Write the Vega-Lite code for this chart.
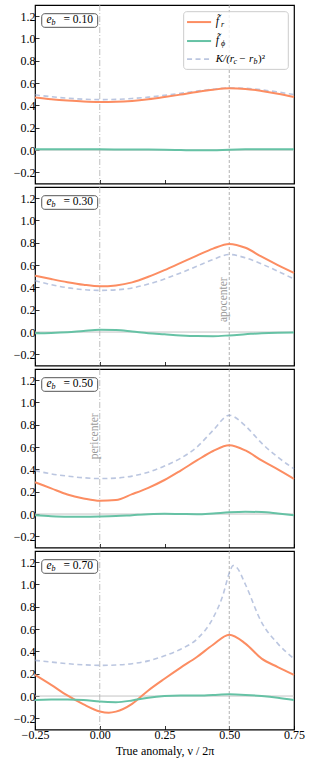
{
  "$schema": "https://vega.github.io/schema/vega-lite/v6.json",
  "padding": {"left": 4, "top": 4, "right": 16, "bottom": 2},
  "spacing": 3,
  "bounds": "flush",
  "config": {
    "font": "Liberation Serif",
    "view": {"stroke": "#000000", "strokeWidth": 1.2},
    "axis": {"domain": false, "grid": false, "ticks": true, "tickColor": "#000000", "tickSize": -4, "tickWidth": 0.8, "tickCount": 20, "labelFont": "Liberation Serif", "labelFontSize": 12, "labelColor": "#000000", "labelPadding": 4, "labelOverlap": false, "labelFlush": false, "titleFont": "Liberation Serif", "titleFontSize": 12, "titleFontWeight": "normal", "titleColor": "#000000"},
    "text": {"font": "Liberation Serif"}
  },
  "datasets": {
    "one": [{"k": 1}],
    "curves": [
      {"eb":0.1,"s":"fr","x":-0.25,"y":0.47},{"eb":0.1,"s":"fr","x":-0.1875,"y":0.455},{"eb":0.1,"s":"fr","x":-0.125,"y":0.443},{"eb":0.1,"s":"fr","x":-0.0625,"y":0.434},{"eb":0.1,"s":"fr","x":0,"y":0.43},{"eb":0.1,"s":"fr","x":0.0625,"y":0.432},{"eb":0.1,"s":"fr","x":0.125,"y":0.44},{"eb":0.1,"s":"fr","x":0.1875,"y":0.455},{"eb":0.1,"s":"fr","x":0.25,"y":0.475},{"eb":0.1,"s":"fr","x":0.3125,"y":0.497},{"eb":0.1,"s":"fr","x":0.375,"y":0.52},{"eb":0.1,"s":"fr","x":0.4375,"y":0.54},{"eb":0.1,"s":"fr","x":0.5,"y":0.553},{"eb":0.1,"s":"fr","x":0.5625,"y":0.548},{"eb":0.1,"s":"fr","x":0.625,"y":0.53},{"eb":0.1,"s":"fr","x":0.6875,"y":0.505},{"eb":0.1,"s":"fr","x":0.75,"y":0.475},
      {"eb":0.1,"s":"K","x":-0.25,"y":0.495},{"eb":0.1,"s":"K","x":-0.1875,"y":0.478},{"eb":0.1,"s":"K","x":-0.125,"y":0.465},{"eb":0.1,"s":"K","x":-0.0625,"y":0.456},{"eb":0.1,"s":"K","x":0,"y":0.452},{"eb":0.1,"s":"K","x":0.0625,"y":0.454},{"eb":0.1,"s":"K","x":0.125,"y":0.462},{"eb":0.1,"s":"K","x":0.1875,"y":0.474},{"eb":0.1,"s":"K","x":0.25,"y":0.49},{"eb":0.1,"s":"K","x":0.3125,"y":0.508},{"eb":0.1,"s":"K","x":0.375,"y":0.528},{"eb":0.1,"s":"K","x":0.4375,"y":0.545},{"eb":0.1,"s":"K","x":0.5,"y":0.556},{"eb":0.1,"s":"K","x":0.5625,"y":0.553},{"eb":0.1,"s":"K","x":0.625,"y":0.54},{"eb":0.1,"s":"K","x":0.6875,"y":0.52},{"eb":0.1,"s":"K","x":0.75,"y":0.497},
      {"eb":0.1,"s":"fp","x":-0.25,"y":0.006},{"eb":0.1,"s":"fp","x":-0.125,"y":0.006},{"eb":0.1,"s":"fp","x":0,"y":0.006},{"eb":0.1,"s":"fp","x":0.125,"y":0.005},{"eb":0.1,"s":"fp","x":0.1875,"y":0.004},{"eb":0.1,"s":"fp","x":0.25,"y":0.003},{"eb":0.1,"s":"fp","x":0.3125,"y":0.0},{"eb":0.1,"s":"fp","x":0.375,"y":-0.003},{"eb":0.1,"s":"fp","x":0.4375,"y":-0.002},{"eb":0.1,"s":"fp","x":0.5,"y":0.003},{"eb":0.1,"s":"fp","x":0.5625,"y":0.006},{"eb":0.1,"s":"fp","x":0.625,"y":0.007},{"eb":0.1,"s":"fp","x":0.75,"y":0.007},

      {"eb":0.3,"s":"fr","x":-0.25,"y":0.505},{"eb":0.3,"s":"fr","x":-0.1875,"y":0.475},{"eb":0.3,"s":"fr","x":-0.125,"y":0.447},{"eb":0.3,"s":"fr","x":-0.0625,"y":0.424},{"eb":0.3,"s":"fr","x":0,"y":0.41},{"eb":0.3,"s":"fr","x":0.0625,"y":0.418},{"eb":0.3,"s":"fr","x":0.125,"y":0.445},{"eb":0.3,"s":"fr","x":0.1875,"y":0.495},{"eb":0.3,"s":"fr","x":0.25,"y":0.555},{"eb":0.3,"s":"fr","x":0.3125,"y":0.62},{"eb":0.3,"s":"fr","x":0.375,"y":0.685},{"eb":0.3,"s":"fr","x":0.4375,"y":0.748},{"eb":0.3,"s":"fr","x":0.5,"y":0.79},{"eb":0.3,"s":"fr","x":0.5625,"y":0.755},{"eb":0.3,"s":"fr","x":0.625,"y":0.675},{"eb":0.3,"s":"fr","x":0.6875,"y":0.6},{"eb":0.3,"s":"fr","x":0.75,"y":0.53},
      {"eb":0.3,"s":"K","x":-0.25,"y":0.46},{"eb":0.3,"s":"K","x":-0.1875,"y":0.425},{"eb":0.3,"s":"K","x":-0.125,"y":0.397},{"eb":0.3,"s":"K","x":-0.0625,"y":0.38},{"eb":0.3,"s":"K","x":0,"y":0.373},{"eb":0.3,"s":"K","x":0.0625,"y":0.378},{"eb":0.3,"s":"K","x":0.125,"y":0.395},{"eb":0.3,"s":"K","x":0.1875,"y":0.43},{"eb":0.3,"s":"K","x":0.25,"y":0.475},{"eb":0.3,"s":"K","x":0.3125,"y":0.53},{"eb":0.3,"s":"K","x":0.375,"y":0.59},{"eb":0.3,"s":"K","x":0.4375,"y":0.65},{"eb":0.3,"s":"K","x":0.5,"y":0.695},{"eb":0.3,"s":"K","x":0.5625,"y":0.665},{"eb":0.3,"s":"K","x":0.625,"y":0.61},{"eb":0.3,"s":"K","x":0.6875,"y":0.545},{"eb":0.3,"s":"K","x":0.75,"y":0.475},
      {"eb":0.3,"s":"fp","x":-0.25,"y":-0.01},{"eb":0.3,"s":"fp","x":-0.1875,"y":-0.008},{"eb":0.3,"s":"fp","x":-0.125,"y":-0.002},{"eb":0.3,"s":"fp","x":-0.0625,"y":0.01},{"eb":0.3,"s":"fp","x":0,"y":0.02},{"eb":0.3,"s":"fp","x":0.0625,"y":0.018},{"eb":0.3,"s":"fp","x":0.125,"y":0.005},{"eb":0.3,"s":"fp","x":0.1875,"y":-0.01},{"eb":0.3,"s":"fp","x":0.25,"y":-0.02},{"eb":0.3,"s":"fp","x":0.3125,"y":-0.03},{"eb":0.3,"s":"fp","x":0.375,"y":-0.036},{"eb":0.3,"s":"fp","x":0.4375,"y":-0.037},{"eb":0.3,"s":"fp","x":0.5,"y":-0.03},{"eb":0.3,"s":"fp","x":0.5625,"y":-0.02},{"eb":0.3,"s":"fp","x":0.625,"y":-0.01},{"eb":0.3,"s":"fp","x":0.6875,"y":-0.006},{"eb":0.3,"s":"fp","x":0.75,"y":-0.005},

      {"eb":0.5,"s":"fr","x":-0.25,"y":0.285},{"eb":0.5,"s":"fr","x":-0.1875,"y":0.23},{"eb":0.5,"s":"fr","x":-0.125,"y":0.175},{"eb":0.5,"s":"fr","x":-0.0625,"y":0.14},{"eb":0.5,"s":"fr","x":0,"y":0.118},{"eb":0.5,"s":"fr","x":0.0625,"y":0.125},{"eb":0.5,"s":"fr","x":0.125,"y":0.178},{"eb":0.5,"s":"fr","x":0.1875,"y":0.235},{"eb":0.5,"s":"fr","x":0.25,"y":0.305},{"eb":0.5,"s":"fr","x":0.3125,"y":0.39},{"eb":0.5,"s":"fr","x":0.375,"y":0.48},{"eb":0.5,"s":"fr","x":0.4375,"y":0.565},{"eb":0.5,"s":"fr","x":0.5,"y":0.617},{"eb":0.5,"s":"fr","x":0.5625,"y":0.57},{"eb":0.5,"s":"fr","x":0.625,"y":0.48},{"eb":0.5,"s":"fr","x":0.6875,"y":0.4},{"eb":0.5,"s":"fr","x":0.75,"y":0.315},
      {"eb":0.5,"s":"K","x":-0.25,"y":0.39},{"eb":0.5,"s":"K","x":-0.1875,"y":0.36},{"eb":0.5,"s":"K","x":-0.125,"y":0.34},{"eb":0.5,"s":"K","x":-0.0625,"y":0.325},{"eb":0.5,"s":"K","x":0,"y":0.318},{"eb":0.5,"s":"K","x":0.0625,"y":0.322},{"eb":0.5,"s":"K","x":0.125,"y":0.34},{"eb":0.5,"s":"K","x":0.1875,"y":0.375},{"eb":0.5,"s":"K","x":0.25,"y":0.43},{"eb":0.5,"s":"K","x":0.3125,"y":0.5},{"eb":0.5,"s":"K","x":0.375,"y":0.6},{"eb":0.5,"s":"K","x":0.4375,"y":0.75},{"eb":0.5,"s":"K","x":0.5,"y":0.885},{"eb":0.5,"s":"K","x":0.5625,"y":0.79},{"eb":0.5,"s":"K","x":0.625,"y":0.635},{"eb":0.5,"s":"K","x":0.6875,"y":0.51},{"eb":0.5,"s":"K","x":0.75,"y":0.405},
      {"eb":0.5,"s":"fp","x":-0.25,"y":-0.012},{"eb":0.5,"s":"fp","x":-0.1875,"y":-0.02},{"eb":0.5,"s":"fp","x":-0.125,"y":-0.024},{"eb":0.5,"s":"fp","x":-0.0625,"y":-0.024},{"eb":0.5,"s":"fp","x":0,"y":-0.022},{"eb":0.5,"s":"fp","x":0.0625,"y":-0.018},{"eb":0.5,"s":"fp","x":0.125,"y":-0.01},{"eb":0.5,"s":"fp","x":0.1875,"y":-0.002},{"eb":0.5,"s":"fp","x":0.25,"y":0.002},{"eb":0.5,"s":"fp","x":0.3125,"y":0.0},{"eb":0.5,"s":"fp","x":0.375,"y":-0.002},{"eb":0.5,"s":"fp","x":0.4375,"y":0.005},{"eb":0.5,"s":"fp","x":0.5,"y":0.015},{"eb":0.5,"s":"fp","x":0.5625,"y":0.02},{"eb":0.5,"s":"fp","x":0.625,"y":0.018},{"eb":0.5,"s":"fp","x":0.6875,"y":0.005},{"eb":0.5,"s":"fp","x":0.75,"y":-0.01},

      {"eb":0.7,"s":"fr","x":-0.25,"y":0.19},{"eb":0.7,"s":"fr","x":-0.1875,"y":0.1},{"eb":0.7,"s":"fr","x":-0.125,"y":0.005},{"eb":0.7,"s":"fr","x":-0.0625,"y":-0.075},{"eb":0.7,"s":"fr","x":0,"y":-0.138},{"eb":0.7,"s":"fr","x":0.035,"y":-0.15},{"eb":0.7,"s":"fr","x":0.0625,"y":-0.14},{"eb":0.7,"s":"fr","x":0.125,"y":-0.07},{"eb":0.7,"s":"fr","x":0.1875,"y":0.05},{"eb":0.7,"s":"fr","x":0.25,"y":0.155},{"eb":0.7,"s":"fr","x":0.3125,"y":0.255},{"eb":0.7,"s":"fr","x":0.375,"y":0.35},{"eb":0.7,"s":"fr","x":0.4375,"y":0.46},{"eb":0.7,"s":"fr","x":0.5,"y":0.55},{"eb":0.7,"s":"fr","x":0.5625,"y":0.47},{"eb":0.7,"s":"fr","x":0.625,"y":0.335},{"eb":0.7,"s":"fr","x":0.6875,"y":0.26},{"eb":0.7,"s":"fr","x":0.75,"y":0.19},
      {"eb":0.7,"s":"K","x":-0.25,"y":0.32},{"eb":0.7,"s":"K","x":-0.1875,"y":0.305},{"eb":0.7,"s":"K","x":-0.125,"y":0.29},{"eb":0.7,"s":"K","x":-0.0625,"y":0.28},{"eb":0.7,"s":"K","x":0,"y":0.275},{"eb":0.7,"s":"K","x":0.0625,"y":0.278},{"eb":0.7,"s":"K","x":0.125,"y":0.29},{"eb":0.7,"s":"K","x":0.1875,"y":0.315},{"eb":0.7,"s":"K","x":0.25,"y":0.36},{"eb":0.7,"s":"K","x":0.3125,"y":0.42},{"eb":0.7,"s":"K","x":0.375,"y":0.51},{"eb":0.7,"s":"K","x":0.4375,"y":0.7},{"eb":0.7,"s":"K","x":0.475,"y":0.9},{"eb":0.7,"s":"K","x":0.5,"y":1.1},{"eb":0.7,"s":"K","x":0.515,"y":1.17},{"eb":0.7,"s":"K","x":0.53,"y":1.15},{"eb":0.7,"s":"K","x":0.5625,"y":1.0},{"eb":0.7,"s":"K","x":0.625,"y":0.66},{"eb":0.7,"s":"K","x":0.6875,"y":0.47},{"eb":0.7,"s":"K","x":0.75,"y":0.335},
      {"eb":0.7,"s":"fp","x":-0.25,"y":-0.035},{"eb":0.7,"s":"fp","x":-0.1875,"y":-0.032},{"eb":0.7,"s":"fp","x":-0.125,"y":-0.03},{"eb":0.7,"s":"fp","x":-0.0625,"y":-0.035},{"eb":0.7,"s":"fp","x":0,"y":-0.05},{"eb":0.7,"s":"fp","x":0.0625,"y":-0.055},{"eb":0.7,"s":"fp","x":0.125,"y":-0.04},{"eb":0.7,"s":"fp","x":0.1875,"y":-0.015},{"eb":0.7,"s":"fp","x":0.25,"y":0.0},{"eb":0.7,"s":"fp","x":0.3125,"y":0.005},{"eb":0.7,"s":"fp","x":0.375,"y":0.005},{"eb":0.7,"s":"fp","x":0.4375,"y":0.01},{"eb":0.7,"s":"fp","x":0.5,"y":0.015},{"eb":0.7,"s":"fp","x":0.5625,"y":0.01},{"eb":0.7,"s":"fp","x":0.625,"y":0.0},{"eb":0.7,"s":"fp","x":0.6875,"y":-0.015},{"eb":0.7,"s":"fp","x":0.75,"y":-0.035}
    ]
  },
  "vconcat": [
    {
      "width": 259, "height": 178.5,
      "layer": [
        {"data": {"name": "one"}, "mark": {"type": "rule", "color": "#c4c4c4", "strokeWidth": 1}, "encoding": {"y": {"datum": 0}}},
        {"data": {"name": "one"}, "mark": {"type": "rule", "color": "#b0b0b0", "strokeWidth": 0.8, "strokeDash": [6, 2, 1, 2]}, "encoding": {"x": {"datum": 0}}},
        {"data": {"name": "one"}, "mark": {"type": "rule", "color": "#a0a0a0", "strokeWidth": 0.8, "strokeDash": [3, 2]}, "encoding": {"x": {"datum": 0.5}}},
        {"data": {"name": "curves"}, "transform": [{"filter": "datum.eb == 0.1 && datum.s == 'K'"}], "mark": {"type": "line", "color": "#8da0cb", "opacity": 0.6, "strokeWidth": 1.6, "strokeDash": [5, 3.5], "interpolate": "monotone"},
         "encoding": {"x": {"field": "x", "type": "quantitative", "scale": {"domain": [-0.25, 0.75], "nice": false, "zero": false}, "axis": {"values": [-0.25, 0, 0.25, 0.5, 0.75], "tickCount": 20, "labels": false, "title": null, "labelOverlap": false, "minExtent": 0, "maxExtent": 0}},
                      "y": {"field": "y", "type": "quantitative", "scale": {"domain": [-0.3, 1.3], "nice": false, "zero": false}, "axis": {"values": [-0.2, 0, 0.2, 0.4, 0.6, 0.8, 1.0, 1.2], "tickCount": 20, "format": ".1f", "title": null, "labelOverlap": false, "minExtent": 30, "maxExtent": 30}}}},
        {"data": {"name": "curves"}, "transform": [{"filter": "datum.eb == 0.1 && datum.s == 'fr'"}], "mark": {"type": "line", "color": "#fc8d62", "strokeWidth": 2, "interpolate": "monotone"}, "encoding": {"x": {"field": "x", "type": "quantitative"}, "y": {"field": "y", "type": "quantitative"}}},
        {"data": {"name": "curves"}, "transform": [{"filter": "datum.eb == 0.1 && datum.s == 'fp'"}], "mark": {"type": "line", "color": "#66c2a5", "strokeWidth": 2, "interpolate": "monotone"}, "encoding": {"x": {"field": "x", "type": "quantitative"}, "y": {"field": "y", "type": "quantitative"}}},
        {"data": {"name": "one"}, "mark": {"type": "rect", "fill": "#ffffff", "stroke": "#555555", "strokeWidth": 1, "cornerRadius": 3}, "encoding": {"x": {"datum": -0.224}, "x2": {"datum": -0.008}, "y": {"datum": 1.222}, "y2": {"datum": 1.1}}},
        {"data": {"name": "one"}, "mark": {"type": "text", "fontStyle": "italic", "fontSize": 11.5, "align": "left", "baseline": "middle", "text": "e"}, "encoding": {"x": {"datum": -0.206}, "y": {"datum": 1.165}}},
        {"data": {"name": "one"}, "mark": {"type": "text", "fontStyle": "italic", "fontSize": 8, "align": "left", "baseline": "middle", "dy": 3, "text": "b"}, "encoding": {"x": {"datum": -0.186}, "y": {"datum": 1.165}}},
        {"data": {"name": "one"}, "mark": {"type": "text", "fontSize": 11.5, "align": "left", "baseline": "middle", "text": "= 0.10"}, "encoding": {"x": {"datum": -0.14}, "y": {"datum": 1.165}}},
        {"data": {"name": "one"}, "mark": {"type": "rect", "fill": "#ffffff", "fillOpacity": 0.8, "stroke": "#cccccc", "strokeWidth": 1, "cornerRadius": 3}, "encoding": {"x": {"datum": 0.324}, "x2": {"datum": 0.728}, "y": {"datum": 1.24}, "y2": {"datum": 0.723}}},
        {"data": {"name": "one"}, "mark": {"type": "rule", "color": "#fc8d62", "strokeWidth": 2}, "encoding": {"x": {"datum": 0.337}, "x2": {"datum": 0.43}, "y": {"datum": 1.147}}},
        {"data": {"name": "one"}, "mark": {"type": "rule", "color": "#66c2a5", "strokeWidth": 2}, "encoding": {"x": {"datum": 0.337}, "x2": {"datum": 0.43}, "y": {"datum": 0.977}}},
        {"data": {"name": "one"}, "mark": {"type": "rule", "color": "#8da0cb", "opacity": 0.6, "strokeWidth": 1.6, "strokeDash": [5, 3.5]}, "encoding": {"x": {"datum": 0.337}, "x2": {"datum": 0.43}, "y": {"datum": 0.815}}},
        {"data": {"name": "one"}, "mark": {"type": "text", "fontStyle": "italic", "fontSize": 11.5, "align": "left", "baseline": "middle", "text": "f̃"}, "encoding": {"x": {"datum": 0.448}, "y": {"datum": 1.147}}},
        {"data": {"name": "one"}, "mark": {"type": "text", "fontStyle": "italic", "fontSize": 8, "align": "left", "baseline": "middle", "dy": 3, "text": "r"}, "encoding": {"x": {"datum": 0.468}, "y": {"datum": 1.147}}},
        {"data": {"name": "one"}, "mark": {"type": "text", "fontStyle": "italic", "fontSize": 11.5, "align": "left", "baseline": "middle", "text": "f̃"}, "encoding": {"x": {"datum": 0.448}, "y": {"datum": 0.977}}},
        {"data": {"name": "one"}, "mark": {"type": "text", "fontStyle": "italic", "fontSize": 8, "align": "left", "baseline": "middle", "dy": 3, "text": "ϕ"}, "encoding": {"x": {"datum": 0.468}, "y": {"datum": 0.977}}},
        {"data": {"name": "one"}, "mark": {"type": "text", "fontStyle": "italic", "fontSize": 11, "align": "left", "baseline": "middle", "text": "K/(r"}, "encoding": {"x": {"datum": 0.448}, "y": {"datum": 0.815}}},
        {"data": {"name": "one"}, "mark": {"type": "text", "fontStyle": "italic", "fontSize": 8, "align": "left", "baseline": "middle", "dy": 3, "text": "c"}, "encoding": {"x": {"datum": 0.516}, "y": {"datum": 0.815}}},
        {"data": {"name": "one"}, "mark": {"type": "text", "fontStyle": "italic", "fontSize": 11, "align": "left", "baseline": "middle", "text": "− r"}, "encoding": {"x": {"datum": 0.537}, "y": {"datum": 0.815}}},
        {"data": {"name": "one"}, "mark": {"type": "text", "fontStyle": "italic", "fontSize": 8, "align": "left", "baseline": "middle", "dy": 3, "text": "b"}, "encoding": {"x": {"datum": 0.594}, "y": {"datum": 0.815}}},
        {"data": {"name": "one"}, "mark": {"type": "text", "fontSize": 11, "align": "left", "baseline": "middle", "text": ")²"}, "encoding": {"x": {"datum": 0.611}, "y": {"datum": 0.815}}}
      ]
    },
    {
      "width": 259, "height": 178.5,
      "layer": [
        {"data": {"name": "one"}, "mark": {"type": "rule", "color": "#c4c4c4", "strokeWidth": 1}, "encoding": {"y": {"datum": 0}}},
        {"data": {"name": "one"}, "mark": {"type": "rule", "color": "#b0b0b0", "strokeWidth": 0.8, "strokeDash": [6, 2, 1, 2]}, "encoding": {"x": {"datum": 0}}},
        {"data": {"name": "one"}, "mark": {"type": "rule", "color": "#a0a0a0", "strokeWidth": 0.8, "strokeDash": [3, 2]}, "encoding": {"x": {"datum": 0.5}}},
        {"data": {"name": "curves"}, "transform": [{"filter": "datum.eb == 0.3 && datum.s == 'K'"}], "mark": {"type": "line", "color": "#8da0cb", "opacity": 0.6, "strokeWidth": 1.6, "strokeDash": [5, 3.5], "interpolate": "monotone"},
         "encoding": {"x": {"field": "x", "type": "quantitative", "scale": {"domain": [-0.25, 0.75], "nice": false, "zero": false}, "axis": {"values": [-0.25, 0, 0.25, 0.5, 0.75], "tickCount": 20, "labels": false, "title": null, "labelOverlap": false, "minExtent": 0, "maxExtent": 0}},
                      "y": {"field": "y", "type": "quantitative", "scale": {"domain": [-0.3, 1.3], "nice": false, "zero": false}, "axis": {"values": [-0.2, 0, 0.2, 0.4, 0.6, 0.8, 1.0, 1.2], "tickCount": 20, "format": ".1f", "title": null, "labelOverlap": false, "minExtent": 30, "maxExtent": 30}}}},
        {"data": {"name": "curves"}, "transform": [{"filter": "datum.eb == 0.3 && datum.s == 'fr'"}], "mark": {"type": "line", "color": "#fc8d62", "strokeWidth": 2, "interpolate": "monotone"}, "encoding": {"x": {"field": "x", "type": "quantitative"}, "y": {"field": "y", "type": "quantitative"}}},
        {"data": {"name": "curves"}, "transform": [{"filter": "datum.eb == 0.3 && datum.s == 'fp'"}], "mark": {"type": "line", "color": "#66c2a5", "strokeWidth": 2, "interpolate": "monotone"}, "encoding": {"x": {"field": "x", "type": "quantitative"}, "y": {"field": "y", "type": "quantitative"}}},
        {"data": {"name": "one"}, "mark": {"type": "text", "fontSize": 11.5, "color": "#999999", "angle": 270, "align": "left", "baseline": "bottom", "text": "apocenter"}, "encoding": {"x": {"datum": 0.5}, "y": {"datum": 0.09}}},
        {"data": {"name": "one"}, "mark": {"type": "rect", "fill": "#ffffff", "stroke": "#555555", "strokeWidth": 1, "cornerRadius": 3}, "encoding": {"x": {"datum": -0.224}, "x2": {"datum": -0.008}, "y": {"datum": 1.222}, "y2": {"datum": 1.1}}},
        {"data": {"name": "one"}, "mark": {"type": "text", "fontStyle": "italic", "fontSize": 11.5, "align": "left", "baseline": "middle", "text": "e"}, "encoding": {"x": {"datum": -0.206}, "y": {"datum": 1.165}}},
        {"data": {"name": "one"}, "mark": {"type": "text", "fontStyle": "italic", "fontSize": 8, "align": "left", "baseline": "middle", "dy": 3, "text": "b"}, "encoding": {"x": {"datum": -0.186}, "y": {"datum": 1.165}}},
        {"data": {"name": "one"}, "mark": {"type": "text", "fontSize": 11.5, "align": "left", "baseline": "middle", "text": "= 0.30"}, "encoding": {"x": {"datum": -0.14}, "y": {"datum": 1.165}}}
      ]
    },
    {
      "width": 259, "height": 178.5,
      "layer": [
        {"data": {"name": "one"}, "mark": {"type": "rule", "color": "#c4c4c4", "strokeWidth": 1}, "encoding": {"y": {"datum": 0}}},
        {"data": {"name": "one"}, "mark": {"type": "rule", "color": "#b0b0b0", "strokeWidth": 0.8, "strokeDash": [6, 2, 1, 2]}, "encoding": {"x": {"datum": 0}}},
        {"data": {"name": "one"}, "mark": {"type": "rule", "color": "#a0a0a0", "strokeWidth": 0.8, "strokeDash": [3, 2]}, "encoding": {"x": {"datum": 0.5}}},
        {"data": {"name": "curves"}, "transform": [{"filter": "datum.eb == 0.5 && datum.s == 'K'"}], "mark": {"type": "line", "color": "#8da0cb", "opacity": 0.6, "strokeWidth": 1.6, "strokeDash": [5, 3.5], "interpolate": "monotone"},
         "encoding": {"x": {"field": "x", "type": "quantitative", "scale": {"domain": [-0.25, 0.75], "nice": false, "zero": false}, "axis": {"values": [-0.25, 0, 0.25, 0.5, 0.75], "tickCount": 20, "labels": false, "title": null, "labelOverlap": false, "minExtent": 0, "maxExtent": 0}},
                      "y": {"field": "y", "type": "quantitative", "scale": {"domain": [-0.3, 1.3], "nice": false, "zero": false}, "axis": {"values": [-0.2, 0, 0.2, 0.4, 0.6, 0.8, 1.0, 1.2], "tickCount": 20, "format": ".1f", "title": null, "labelOverlap": false, "minExtent": 30, "maxExtent": 30}}}},
        {"data": {"name": "curves"}, "transform": [{"filter": "datum.eb == 0.5 && datum.s == 'fr'"}], "mark": {"type": "line", "color": "#fc8d62", "strokeWidth": 2, "interpolate": "monotone"}, "encoding": {"x": {"field": "x", "type": "quantitative"}, "y": {"field": "y", "type": "quantitative"}}},
        {"data": {"name": "curves"}, "transform": [{"filter": "datum.eb == 0.5 && datum.s == 'fp'"}], "mark": {"type": "line", "color": "#66c2a5", "strokeWidth": 2, "interpolate": "monotone"}, "encoding": {"x": {"field": "x", "type": "quantitative"}, "y": {"field": "y", "type": "quantitative"}}},
        {"data": {"name": "one"}, "mark": {"type": "text", "fontSize": 11.5, "color": "#999999", "angle": 270, "align": "left", "baseline": "bottom", "text": "pericenter"}, "encoding": {"x": {"datum": 0}, "y": {"datum": 0.49}}},
        {"data": {"name": "one"}, "mark": {"type": "rect", "fill": "#ffffff", "stroke": "#555555", "strokeWidth": 1, "cornerRadius": 3}, "encoding": {"x": {"datum": -0.224}, "x2": {"datum": -0.008}, "y": {"datum": 1.222}, "y2": {"datum": 1.1}}},
        {"data": {"name": "one"}, "mark": {"type": "text", "fontStyle": "italic", "fontSize": 11.5, "align": "left", "baseline": "middle", "text": "e"}, "encoding": {"x": {"datum": -0.206}, "y": {"datum": 1.165}}},
        {"data": {"name": "one"}, "mark": {"type": "text", "fontStyle": "italic", "fontSize": 8, "align": "left", "baseline": "middle", "dy": 3, "text": "b"}, "encoding": {"x": {"datum": -0.186}, "y": {"datum": 1.165}}},
        {"data": {"name": "one"}, "mark": {"type": "text", "fontSize": 11.5, "align": "left", "baseline": "middle", "text": "= 0.50"}, "encoding": {"x": {"datum": -0.14}, "y": {"datum": 1.165}}}
      ]
    },
    {
      "width": 259, "height": 178.5,
      "layer": [
        {"data": {"name": "one"}, "mark": {"type": "rule", "color": "#c4c4c4", "strokeWidth": 1}, "encoding": {"y": {"datum": 0}}},
        {"data": {"name": "one"}, "mark": {"type": "rule", "color": "#b0b0b0", "strokeWidth": 0.8, "strokeDash": [6, 2, 1, 2]}, "encoding": {"x": {"datum": 0}}},
        {"data": {"name": "one"}, "mark": {"type": "rule", "color": "#a0a0a0", "strokeWidth": 0.8, "strokeDash": [3, 2]}, "encoding": {"x": {"datum": 0.5}}},
        {"data": {"name": "curves"}, "transform": [{"filter": "datum.eb == 0.7 && datum.s == 'K'"}], "mark": {"type": "line", "color": "#8da0cb", "opacity": 0.6, "strokeWidth": 1.6, "strokeDash": [5, 3.5], "interpolate": "monotone"},
         "encoding": {"x": {"field": "x", "type": "quantitative", "scale": {"domain": [-0.25, 0.75], "nice": false, "zero": false}, "axis": {"values": [-0.25, 0, 0.25, 0.5, 0.75], "tickCount": 20, "format": ".2f", "labelOverlap": false, "title": "True anomaly, ν / 2π", "titlePadding": 5}},
                      "y": {"field": "y", "type": "quantitative", "scale": {"domain": [-0.3, 1.3], "nice": false, "zero": false}, "axis": {"values": [-0.2, 0, 0.2, 0.4, 0.6, 0.8, 1.0, 1.2], "tickCount": 20, "format": ".1f", "title": null, "labelOverlap": false, "minExtent": 30, "maxExtent": 30}}}},
        {"data": {"name": "curves"}, "transform": [{"filter": "datum.eb == 0.7 && datum.s == 'fr'"}], "mark": {"type": "line", "color": "#fc8d62", "strokeWidth": 2, "interpolate": "monotone"}, "encoding": {"x": {"field": "x", "type": "quantitative"}, "y": {"field": "y", "type": "quantitative"}}},
        {"data": {"name": "curves"}, "transform": [{"filter": "datum.eb == 0.7 && datum.s == 'fp'"}], "mark": {"type": "line", "color": "#66c2a5", "strokeWidth": 2, "interpolate": "monotone"}, "encoding": {"x": {"field": "x", "type": "quantitative"}, "y": {"field": "y", "type": "quantitative"}}},
        {"data": {"name": "one"}, "mark": {"type": "rect", "fill": "#ffffff", "stroke": "#555555", "strokeWidth": 1, "cornerRadius": 3}, "encoding": {"x": {"datum": -0.224}, "x2": {"datum": -0.008}, "y": {"datum": 1.222}, "y2": {"datum": 1.1}}},
        {"data": {"name": "one"}, "mark": {"type": "text", "fontStyle": "italic", "fontSize": 11.5, "align": "left", "baseline": "middle", "text": "e"}, "encoding": {"x": {"datum": -0.206}, "y": {"datum": 1.165}}},
        {"data": {"name": "one"}, "mark": {"type": "text", "fontStyle": "italic", "fontSize": 8, "align": "left", "baseline": "middle", "dy": 3, "text": "b"}, "encoding": {"x": {"datum": -0.186}, "y": {"datum": 1.165}}},
        {"data": {"name": "one"}, "mark": {"type": "text", "fontSize": 11.5, "align": "left", "baseline": "middle", "text": "= 0.70"}, "encoding": {"x": {"datum": -0.14}, "y": {"datum": 1.165}}}
      ]
    }
  ]
}
